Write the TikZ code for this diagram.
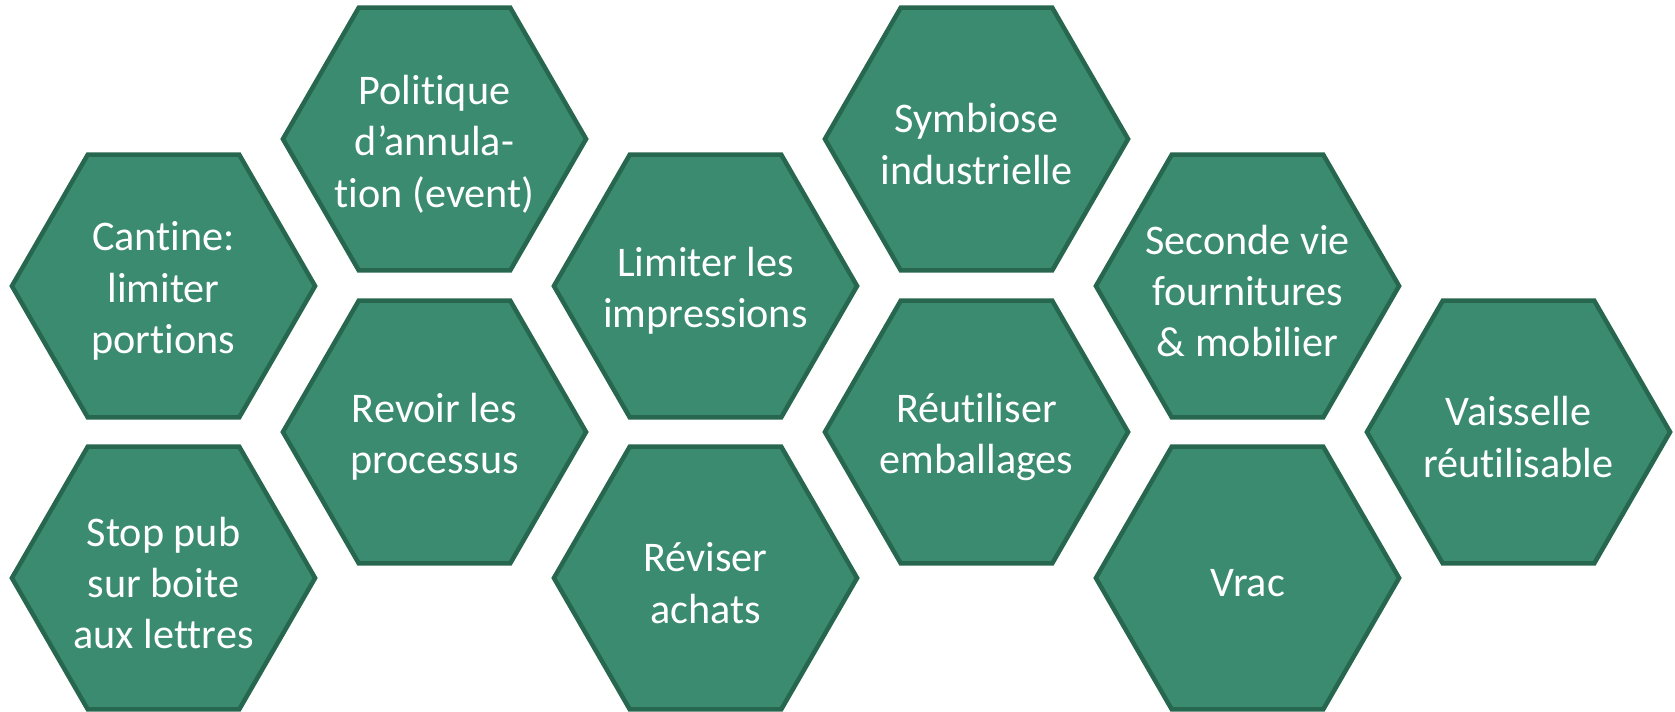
\documentclass[tikz,border=0pt]{standalone}
\usepackage{fontspec}
\setmainfont{Carlito}[Ligatures=NoCommon]
\usepackage{xcolor}
\usetikzlibrary{shapes.geometric}

\definecolor{hexfill}{HTML}{3A8B70}
\definecolor{hexline}{HTML}{28674F}

\begin{document}
\begin{tikzpicture}[
    x=0.01cm, y=-0.01cm,
    hexa/.style={regular polygon, regular polygon sides=6,
                 minimum size=3.03cm, inner sep=0pt,
                 draw=hexline, line width=0.045cm, fill=hexfill},
    hlab/.style={text=white, align=center, inner sep=0pt, yshift=-0.5mm,
                 font=\fontsize{12}{14.6}\selectfont}
  ]
  \useasboundingbox (0,0) rectangle (1675,711);

  % column 1
  \node[hexa, label={[hlab]center:{Cantine:\\limiter\\portions}}]
    (cantine) at (163.5, 286) {};
  \node[hexa, label={[hlab]center:{Stop pub\\sur boite\\aux lettres}}]
    (stoppub) at (163.5, 578) {};

  % column 2
  \node[hexa, label={[hlab]center:{Politique\\d’annula-\\tion (event)}}]
    (annul) at (434.5, 139) {};
  \node[hexa, label={[hlab]center:{Revoir les\\processus}}]
    (process) at (434.5, 432) {};

  % column 3
  \node[hexa, label={[hlab]center:{Limiter les\\impressions}}]
    (impress) at (705.5, 286) {};
  \node[hexa, label={[hlab]center:{Réviser\\achats}}]
    (achats) at (705.5, 578) {};

  % column 4
  \node[hexa, label={[hlab]center:{Symbiose\\industrielle}}]
    (symbiose) at (976.5, 139) {};
  \node[hexa, label={[hlab]center:{Réutiliser\\emballages}}]
    (emball) at (976.5, 432) {};

  % column 5
  \node[hexa, label={[hlab]center:{Seconde vie\\fournitures\\\& mobilier}}]
    (secvie) at (1247.5, 286) {};
  \node[hexa, label={[hlab]center:{Vrac}}]
    (vrac) at (1247.5, 578) {};

  % column 6
  \node[hexa, label={[hlab]center:{Vaisselle\\réutilisable}}]
    (vaiss) at (1518.5, 432) {};
\end{tikzpicture}
\end{document}
